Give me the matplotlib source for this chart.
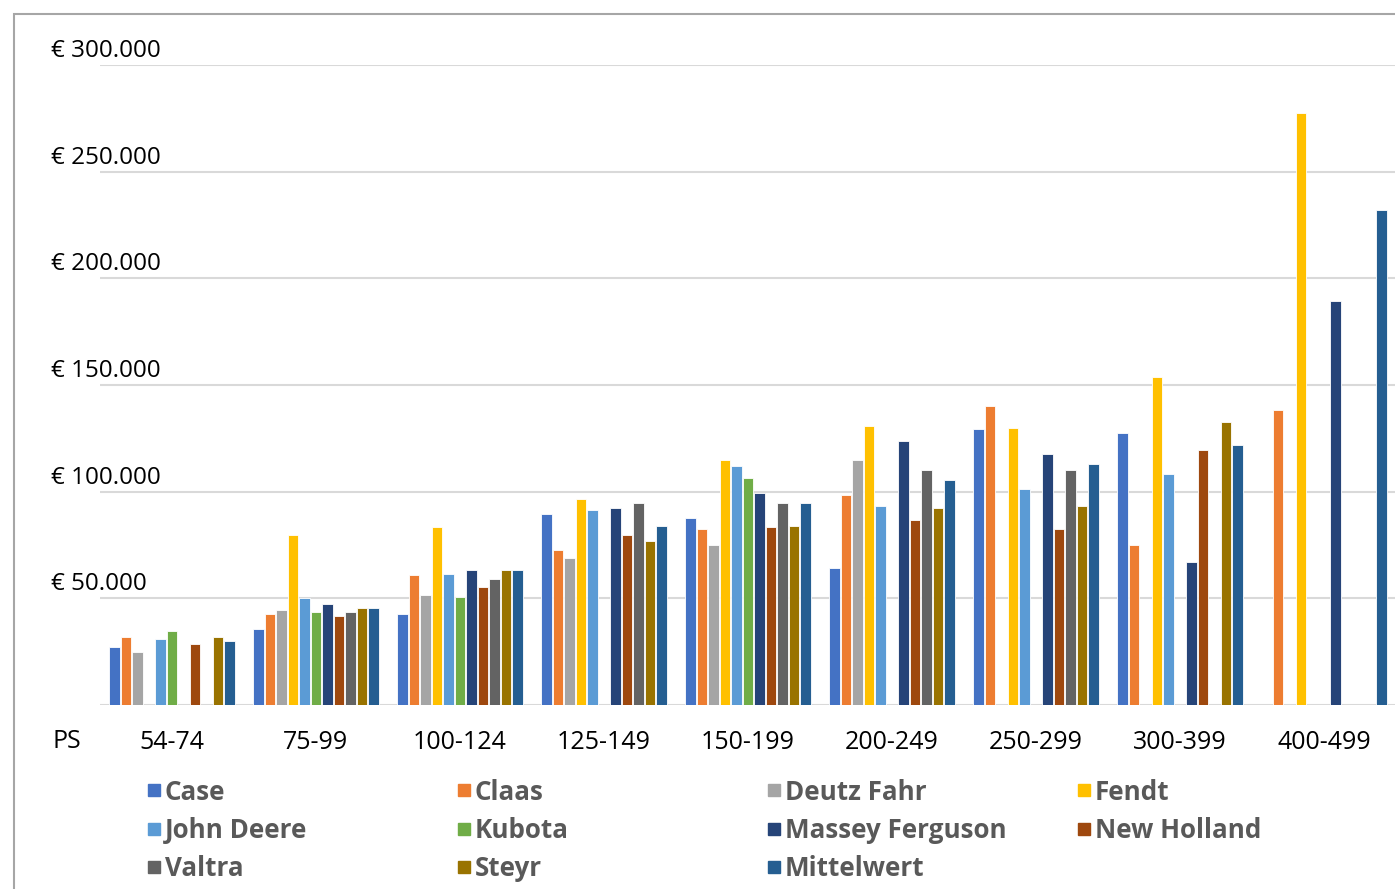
import numpy as np
import matplotlib.pyplot as plt
from matplotlib.patches import Rectangle
from matplotlib.transforms import ScaledTranslation

plt.rcParams['font.family'] = ['Open Sans', 'DejaVu Sans']

nan = np.nan
categories = ["54-74", "75-99", "100-124", "125-149", "150-199",
              "200-249", "250-299", "300-399", "400-499"]

brands = ["Case", "Claas", "Deutz Fahr", "Fendt", "John Deere", "Kubota",
          "Massey Ferguson", "New Holland", "Valtra", "Steyr", "Mittelwert"]

case = [27300, 35500, 42700, 89500, 87700, 64200, 129200, 127500, nan]
claas = [31900, 42700, 60800, 72500, 82300, 98400, 140000, 75200, 138300]
deutz_fahr = [24700, 44500, 51700, 68800, 75000, 114700, nan, nan, nan]
fendt = [nan, 79700, 83300, 96600, 114700, 130900, 130000, 153600, 277500]
john_deere = [30900, 50000, 61600, 91300, 112000, 93100, 101250, 108400, nan]
kubota = [34500, 43600, 50800, nan, 106600, nan, nan, nan, nan]
massey_ferguson = [nan, 47200, 63400, 92200, 99400, 123750, 117500, 67000, 189500]
new_holland = [28400, 41900, 55300, 79500, 83300, 86900, 82300, 119400, nan]
valtra = [nan, 43600, 58900, 94800, 94800, 110200, 110300, nan, nan]
steyr = [31900, 45500, 63400, 76900, 84000, 92200, 93300, 132800, nan]
mittelwert = [30000, 45500, 63400, 84000, 94800, 105600, 113000, 121900, 231800]

series = [case, claas, deutz_fahr, fendt, john_deere, kubota,
          massey_ferguson, new_holland, valtra, steyr, mittelwert]
colors = ["#4472C4", "#ED7D31", "#A5A5A5", "#FFC000", "#5B9BD5", "#70AD47",
          "#264478", "#9E480E", "#636363", "#997300", "#255E91"]

yticks = [0, 50000, 100000, 150000, 200000, 250000, 300000]

W, H = 1395, 889
fig = plt.figure(figsize=(W / 100, H / 100), dpi=100)
ax = fig.add_axes([100 / W, 1 - 705 / H, 1296 / W, 640 / H])

x = np.arange(len(categories))
slot = 0.08
for i, (vals, color) in enumerate(zip(series, colors)):
    ax.bar(x + (i - 5) * slot, np.array(vals, dtype=float), width=0.072,
           color=color, edgecolor="white", linewidth=0.6, zorder=2)

ax.set_xlim(-0.5, 8.5)
ax.set_ylim(0, 300000)
for s in ax.spines.values():
    s.set_visible(False)

ax.set_yticks(yticks)
ax.set_yticklabels(["" if v == 0 else "€ " + f"{v:,}".replace(",", ".") for v in yticks])
ax.tick_params(axis="y", length=0, labelsize=17.5, pad=35)
for lab in ax.get_yticklabels():
    lab.set_horizontalalignment("left")
    lab.set_transform(lab.get_transform() + ScaledTranslation(0, 17 / 100, fig.dpi_scale_trans))
ax.yaxis.grid(True, color="#D9D9D9", linewidth=1.5, zorder=0)
ax.set_axisbelow(True)

ax.set_xticks(x)
ax.set_xticklabels(categories)
ax.tick_params(axis="x", length=0, labelsize=18, pad=18)

fig.text(52 / W, 1 - 741 / H, "PS", fontsize=18, va="center", ha="left")

# legend, drawn by hand so the four columns are evenly spaced
for k, (name, color) in enumerate(zip(brands, colors)):
    col, row = k % 4, k // 4
    px = 148 + col * 310
    py = 791 + row * 38.5
    fig.add_artist(Rectangle((px / W, 1 - (py + 5) / H), 12 / W, 12 / H,
                             transform=fig.transFigure, color=color))
    fig.text((px + 17) / W, 1 - (py + 1) / H, name, fontsize=18.7, fontweight="bold",
             color="#595959", va="center", ha="left")

# outer chart frame (right and bottom lie outside the crop)
fig.add_artist(Rectangle((14 / W, -0.1), 1.2, 1.1 - 14 / H,
                         transform=fig.transFigure, fill=False,
                         edgecolor="#A6A6A6", linewidth=1.5))

fig.savefig("out.png", dpi=100)
